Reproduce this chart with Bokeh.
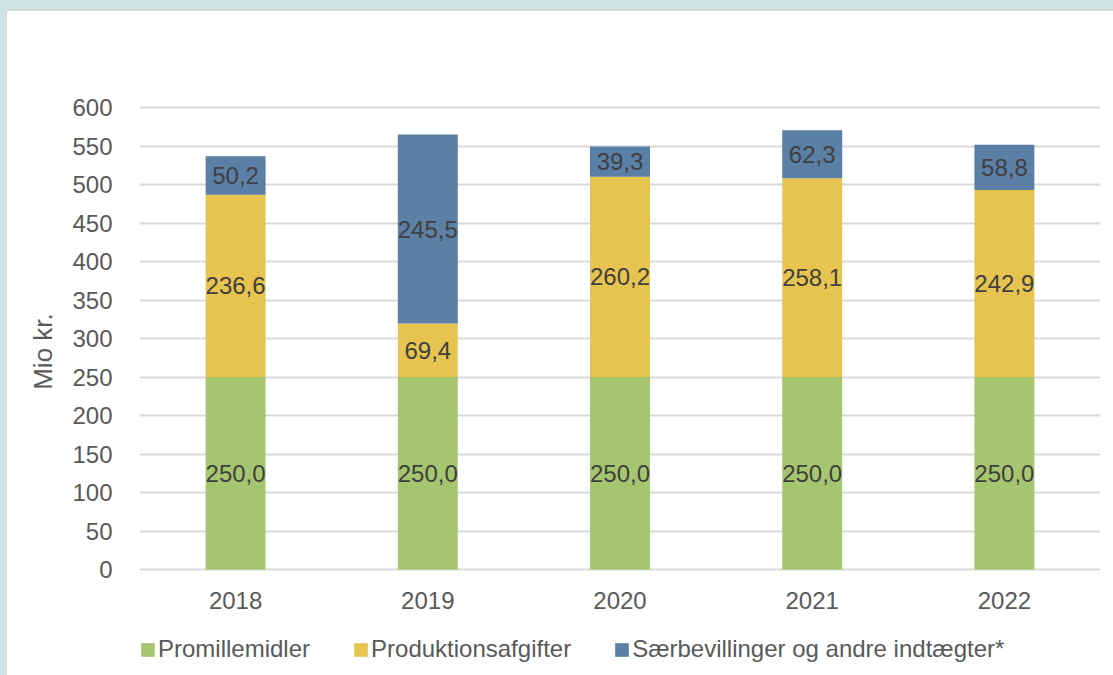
from bokeh.plotting import figure
from bokeh.models import ColumnDataSource, LabelSet, Legend, LegendItem, FactorRange, Range1d
from bokeh.core.properties import value
from bokeh.layouts import column
from bokeh.embed import file_html
from bokeh.resources import INLINE

years = ["2018", "2019", "2020", "2021", "2022"]
promille = [250.0, 250.0, 250.0, 250.0, 250.0]
produktion = [236.6, 69.4, 260.2, 258.1, 242.9]
saerbev = [50.2, 245.5, 39.3, 62.3, 58.8]
series_names = ["Promillemidler", "Produktionsafgifter", "Særbevillinger og andre indtægter*"]
colors = ["#a5c66f", "#e6c44f", "#5b7fa5"]
y_ticks = [0, 50, 100, 150, 200, 250, 300, 350, 400, 450, 500, 550, 600]

FONT = "Liberation Sans"
FS = "24px"

# plot frame spans page y 27..675; value axis 0..600 occupies page y 569..107
PX_PER_UNIT = 462 / 600
y_lo = -(675 - 569) / PX_PER_UNIT
y_hi = 600 + (107 - 27) / PX_PER_UNIT

p = figure(x_range=FactorRange(*years), y_range=Range1d(y_lo, y_hi), width=1106, height=664,
           output_backend="svg", toolbar_location=None, x_axis_location=None,
           min_border_left=132, min_border_right=13, min_border_top=16, min_border_bottom=0)
p.outline_line_color = None
p.background_fill_color = "white"
p.border_fill_color = "white"

src = ColumnDataSource(dict(
    years=years,
    promille=promille,
    produktion=produktion,
    saerbev=saerbev,
))
stack = ["promille", "produktion", "saerbev"]
rs = p.vbar_stack(stack, x="years", width=0.312, color=colors, source=src, line_color=None)

# data labels
bottoms = [0.0] * len(years)
for key, vals in zip(stack, [promille, produktion, saerbev]):
    mids = [b + v / 2 for b, v in zip(bottoms, vals)]
    texts = [f"{v:.1f}".replace(".", ",") for v in vals]
    lsrc = ColumnDataSource(dict(x=years, y=mids, t=texts))
    p.add_layout(LabelSet(x="x", y="y", text="t", source=lsrc, text_align="center",
                          text_baseline="middle", text_font=value(FONT), text_font_size=FS,
                          text_color="#404040"))
    bottoms = [b + v for b, v in zip(bottoms, vals)]

# category labels under the baseline
ysrc = ColumnDataSource(dict(x=years, y=[0] * len(years), t=years))
p.add_layout(LabelSet(x="x", y="y", text="t", source=ysrc, text_align="center",
                      text_baseline="middle", y_offset=-31, text_font=value(FONT),
                      text_font_size=FS, text_color="#595959"))

# y axis
p.yaxis.ticker = y_ticks
p.yaxis.axis_line_color = None
p.yaxis.major_tick_line_color = None
p.yaxis.minor_tick_line_color = None
p.yaxis.major_label_text_font = FONT
p.yaxis.major_label_text_font_size = FS
p.yaxis.major_label_text_color = "#595959"
p.yaxis.major_label_standoff = 21
p.yaxis.axis_label = "Mio kr."
p.yaxis.axis_label_text_font = FONT
p.yaxis.axis_label_text_font_size = "26px"
p.yaxis.axis_label_text_font_style = "normal"
p.yaxis.axis_label_text_color = "#595959"
p.yaxis.axis_label_standoff = 11

p.xgrid.grid_line_color = None
p.ygrid.ticker = y_ticks
p.ygrid.grid_line_color = "#d9d9d9"
p.ygrid.grid_line_width = 2

# legend
leg = Legend(items=[LegendItem(label=n, renderers=[r]) for n, r in zip(series_names, rs)],
             location=(0, 12), orientation="horizontal", padding=0, margin=0, spacing=42,
             glyph_width=17, glyph_height=17, label_standoff=2,
             label_text_font=FONT, label_text_font_size=FS,
             label_text_color="#595959", border_line_color=None,
             background_fill_alpha=0)
p.add_layout(leg, "center")

white_box = column(p, styles={"background-color": "white"}, margin=(2, 0, 0, 2))
gray_box = column(white_box, styles={"background-color": "#d9d9d9"}, margin=(9, 0, 0, 5))
layout = column(gray_box, styles={"background-color": "#cde3e8"})

with open("out.html", "w") as f:
    f.write(file_html(layout, INLINE))
